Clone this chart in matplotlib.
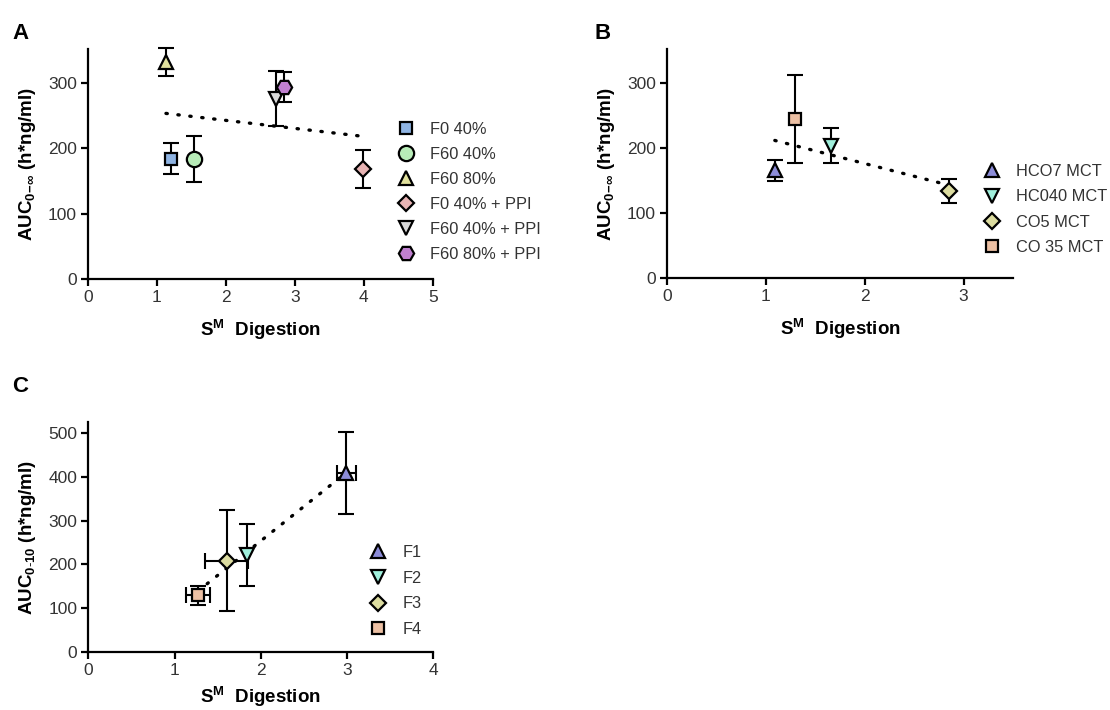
import numpy as np
import matplotlib
matplotlib.use("Agg")
import matplotlib.pyplot as plt

plt.rcParams['font.family'] = ['Liberation Sans', 'DejaVu Sans']
plt.rcParams['mathtext.fontset'] = 'custom'
plt.rcParams['mathtext.rm'] = 'Liberation Sans'
plt.rcParams['mathtext.bf'] = 'Liberation Sans:bold'
plt.rcParams['mathtext.it'] = 'Liberation Sans:italic'

# ---------------- Panel A data ----------------
a_labels = ["F0 40%", "F60 40%", "F60 80%", "F0 40% + PPI", "F60 40% + PPI", "F60 80% + PPI"]
a_x = [1.21, 1.53, 1.13, 3.99, 2.72, 2.84]
a_y = [184, 184, 332, 169, 276, 294]
a_yerr = [24, 35, 21, 29, 42, 23]
a_markers = ["s", "o", "^", "D", "v", "H"]
a_colors = ["#8fb4e3", "#b8ecb8", "#e0e09c", "#e8b4b4", "#d9d9d9", "#c080d0"]
a_sizes = [8.5, 11, 10, 8, 10, 11]

# ---------------- Panel B data ----------------
b_labels = ["HCO7 MCT", "HC040 MCT", "CO5 MCT", "CO 35 MCT"]
b_x = [1.09, 1.655, 2.85, 1.29]
b_y = [166, 204, 134, 245]
b_yerr = [16, 27, 18, 68]
b_markers = ["^", "v", "D", "s"]
b_colors = ["#8c8cd8", "#a0f0dc", "#dcdca0", "#ecc0a4"]
b_sizes = [10, 10, 8, 8.5]

# ---------------- Panel C data ----------------
c_labels = ["F1", "F2", "F3", "F4"]
c_x = [2.99, 1.845, 1.605, 1.27]
c_y = [408, 222, 209, 130]
c_yerr = [93, 70, 115, 22]
c_xerr = [0.11, 0.0, 0.25, 0.14]
c_markers = ["^", "v", "D", "s"]
c_colors = ["#8c8cd8", "#a0f0dc", "#dcdca0", "#ecc0a4"]
c_sizes = [10, 10, 8, 8.5]

fig = plt.figure(figsize=(11.1, 7.1), dpi=100)

TICK_COLOR = "#333333"
LEG_FS = 11.8


def style_axes(ax, xlim, ylim, xticks, yticks, ylabel, xlabelpad=9):
    ax.set_xlim(*xlim)
    ax.set_ylim(*ylim)
    ax.set_xticks(xticks)
    ax.set_yticks(yticks)
    for s in ["top", "right"]:
        ax.spines[s].set_visible(False)
    for s in ["left", "bottom"]:
        ax.spines[s].set_linewidth(1.6)
        ax.spines[s].set_color("black")
    ax.tick_params(direction="out", length=5, width=1.6, labelsize=12.5,
                   labelcolor=TICK_COLOR, pad=3)
    ax.set_xlabel(r"S$^{\mathbf{M}}$  Digestion", fontsize=13.5, fontweight="bold",
                  labelpad=xlabelpad)
    ax.set_ylabel(ylabel, fontsize=13.5, fontweight="bold", labelpad=7)
    ax.patch.set_visible(False)


def draw(ax, xs, ys, yerrs, markers, colors, sizes, labels, xerrs=None):
    handles = []
    for i in range(len(xs)):
        xe = None
        if xerrs is not None and xerrs[i] > 0:
            xe = xerrs[i]
        eb = ax.errorbar(xs[i], ys[i], yerr=yerrs[i], xerr=xe, fmt="none",
                         ecolor="black", elinewidth=1.5, capsize=6, capthick=1.5, zorder=2)
        for art in eb.get_children():
            art.set_clip_on(False)
    # trend line (linear fit over data range)
    xs_a = np.array(xs)
    ys_a = np.array(ys)
    p = np.polyfit(xs_a, ys_a, 1)
    xx = np.array([xs_a.min(), xs_a.max()])
    ax.plot(xx, np.polyval(p, xx), color="black", lw=2.4,
            linestyle=(0, (0.4, 3.2)), dash_capstyle="round", zorder=3)
    for i in range(len(xs)):
        h, = ax.plot(xs[i], ys[i], marker=markers[i], markersize=sizes[i],
                     markerfacecolor=colors[i], markeredgecolor="black",
                     markeredgewidth=1.6, linestyle="none", zorder=4, label=labels[i],
                     clip_on=False)
        handles.append(h)
    return handles


def add_legend(ax, handles, anchor, spacing):
    ax.legend(handles=handles, loc="upper left", bbox_to_anchor=anchor, frameon=False,
              fontsize=LEG_FS, handletextpad=0.9, labelspacing=spacing, borderaxespad=0,
              labelcolor=TICK_COLOR, handlelength=1.2)


# Panel A
axA = fig.add_axes([0.0793, 0.607, 0.3107, 0.324])
hA = draw(axA, a_x, a_y, a_yerr, a_markers, a_colors, a_sizes, a_labels)
style_axes(axA, (0, 5), (0, 352), [0, 1, 2, 3, 4, 5], [0, 100, 200, 300],
           r"AUC$_{\mathbf{0\!-\!\infty}}$ (h*ng/ml)")
add_legend(axA, hA, (0.874, 0.713), 0.61)

# Panel B
axB = fig.add_axes([0.601, 0.608, 0.3116, 0.3226])
hB = draw(axB, b_x, b_y, b_yerr, b_markers, b_colors, b_sizes, b_labels)
style_axes(axB, (0, 3.5), (0, 352), [0, 1, 2, 3], [0, 100, 200, 300],
           r"AUC$_{\mathbf{0\!-\!\infty}}$ (h*ng/ml)")
add_legend(axB, hB, (0.891, 0.527), 0.63)

# Panel C
axC = fig.add_axes([0.0795, 0.0813, 0.3109, 0.3247])
hC = draw(axC, c_x, c_y, c_yerr, c_markers, c_colors, c_sizes, c_labels, xerrs=c_xerr)
style_axes(axC, (0, 4), (0, 525), [0, 1, 2, 3, 4], [0, 100, 200, 300, 400, 500],
           r"AUC$_{\mathbf{0\text{-}10}}$ (h*ng/ml)", xlabelpad=5)
add_legend(axC, hC, (0.792, 0.495), 0.66)

# Panel letters
fig.text(0.011, 0.953, "A", fontsize=16, fontweight="bold", va="center")
fig.text(0.536, 0.953, "B", fontsize=16, fontweight="bold", va="center")
fig.text(0.011, 0.455, "C", fontsize=16, fontweight="bold", va="center")

fig.savefig("out.png", dpi=100)
